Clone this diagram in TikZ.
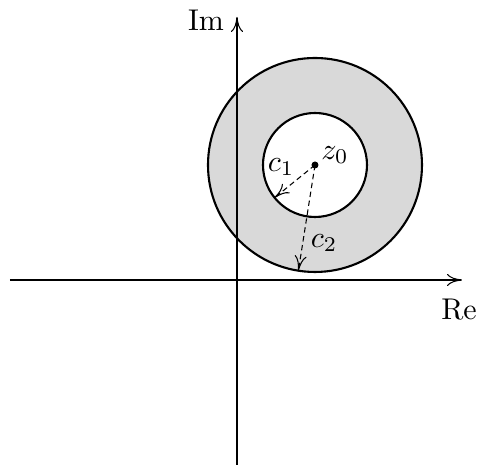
\documentclass[tikz,border=0pt]{standalone}
\usetikzlibrary{arrows.meta}
\begin{document}
\begin{tikzpicture}[x=0.33333pt,y=-0.33333pt,
  >={To[length=5pt,width=4pt]},
  ring/.style={line width=0.7pt},
  axis/.style={->,line width=0.35pt},
  radius arrow/.style={->,dash pattern=on 1.8pt off 1.2pt,line width=0.35pt}]
\useasboundingbox (0,0) rectangle (478,467);
\coordinate (z0) at (315,165);
\coordinate (xl) at (10,280);
\coordinate (xr) at (462,280);
\coordinate (yb) at (237,465);
\coordinate (yt) at (237,17);
\coordinate (p1) at (274.6,197.7);
\coordinate (p2) at (298.4,270.7);
\fill[black!15, even odd rule] (z0) circle[radius=107] (z0) circle[radius=52];
\draw[ring] (z0) circle[radius=107];
\draw[ring] (z0) circle[radius=52];
\draw[axis] (xl) -- (xr);
\draw[axis] (yb) -- (yt);
\draw[radius arrow] (z0) -- (p1);
\draw[radius arrow] (z0) -- (p2);
\fill (z0) circle[radius=3.5];
\node (lz0) at (335,155) {$z_0$};
\node (lc1) at (281,167) {$c_1$};
\node (lc2) at (324,243) {$c_2$};
\node (lim) at (206,20) {Im};
\node (lre) at (459,310) {Re};
\end{tikzpicture}
\end{document}
